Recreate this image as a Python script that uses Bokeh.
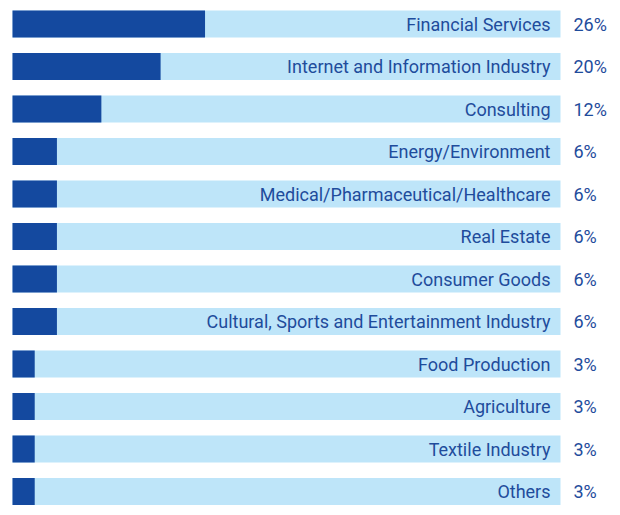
from bokeh.plotting import figure
from bokeh.models import Range1d, ColumnDataSource
from bokeh.core.properties import value
from bokeh.embed import file_html
from bokeh.resources import INLINE

categories = [
    "Financial Services",
    "Internet and Information Industry",
    "Consulting",
    "Energy/Environment",
    "Medical/Pharmaceutical/Healthcare",
    "Real Estate",
    "Consumer Goods",
    "Cultural, Sports and Entertainment Industry",
    "Food Production",
    "Agriculture",
    "Textile Industry",
    "Others",
]
shares = [26, 20, 12, 6, 6, 6, 6, 6, 3, 3, 3, 3]
track_total = 74

rows = list(range(len(categories)))
src = ColumnDataSource(dict(
    row=rows,
    cat=categories,
    share=shares,
    track=[track_total] * len(rows),
    pct=[f"{v}%" for v in shares],
))

W, H = 612, 507
left_px = 12
px_per_unit = (560 - left_px) / track_total
x_start = -left_px / px_per_unit
x_end = x_start + W / px_per_unit
row_px = 42.5
bar_px = 27
first_center = 10 + bar_px / 2
y_top = -first_center / row_px
y_bottom = y_top + H / row_px

p = figure(width=W, height=H, output_backend="svg", toolbar_location=None,
           x_range=Range1d(x_start, x_end), y_range=Range1d(y_bottom, y_top),
           min_border=0, outline_line_color=None)
p.axis.visible = False
p.xgrid.visible = False
p.ygrid.visible = False
p.background_fill_color = "white"
p.border_fill_color = "white"

bh = bar_px / row_px
p.hbar(y="row", left=0, right="track", height=bh, source=src,
       fill_color="#BEE5F9", line_color=None)
p.hbar(y="row", left=0, right="share", height=bh, source=src,
       fill_color="#14499F", line_color=None)

p.text(x="track", y="row", text="cat", source=src, x_offset=-10,
       text_align="right", text_baseline="middle",
       text_font=value("Roboto"), text_font_size="18px", text_color="#1F4C9C")
p.text(x="track", y="row", text="pct", source=src, x_offset=13,
       text_align="left", text_baseline="middle",
       text_font=value("Roboto"), text_font_size="18px", text_color="#1F4C9C")

open("out.html", "w").write(file_html(p, INLINE))
